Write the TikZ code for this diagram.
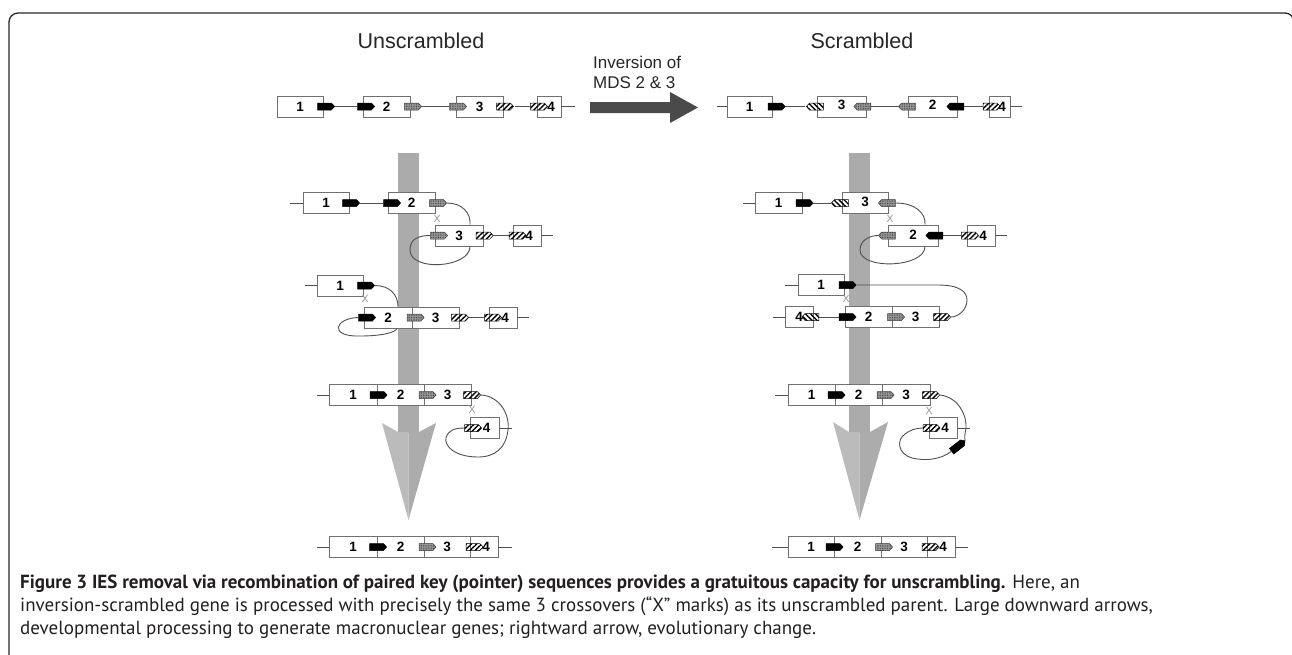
\documentclass[tikz,border=0pt]{standalone}
\usepackage{fontspec}
\usetikzlibrary{shapes.symbols,patterns.meta}
\newfontfamily\hv{Liberation Sans}
\newfontfamily\capf{PT Sans}
\definecolor{boxc}{HTML}{707070}
\definecolor{wirec}{HTML}{505050}
\definecolor{capc}{HTML}{231F20}
\definecolor{shaftc}{HTML}{ABABAB}
\definecolor{headl}{HTML}{BBBBBB}
\definecolor{headr}{HTML}{ACACAC}
\definecolor{bigarr}{HTML}{4A4A4A}
\begin{document}
\begin{tikzpicture}[x=1pt,y=-1pt,
  box/.style={draw=boxc, fill=white, line width=0.9pt, minimum height=21pt, inner sep=0pt,
    minimum width=#1, font=\hv\bfseries\fontsize{13.5}{14}\selectfont},
  ptr/.style={signal, signal pointer angle=95, minimum width=17pt, minimum height=7pt,
    inner sep=0pt, line width=0.5pt},
  pE/.style={signal to=east},
  pW/.style={signal to=west},
  ptrK/.style={ptr, fill=black, draw=black},
  ptrG/.style={ptr, fill=black!40, draw=black!75,
    postaction={pattern={Dots[radius=0.45pt,distance=1.7pt]}, pattern color=black!80}},
  ptrH/.style={ptr, draw=black, pattern={Lines[angle=45,distance=3.6pt,line width=1.4pt]}},
  ptrHw/.style={ptr, draw=black, pattern={Lines[angle=-45,distance=3.6pt,line width=1.4pt]}},
  wire/.style={draw=wirec, line width=0.9pt},
  xm/.style={font=\hv\fontsize{10.5}{11}\selectfont, text=gray!85, inner sep=0pt},
  ttl/.style={font=\hv\fontsize{21.5}{22}\selectfont, anchor=base, text=black!85},
  invt/.style={anchor=base west, inner sep=0pt, font=\hv\fontsize{17}{20}\selectfont, text=black!85},
  capline/.style={anchor=base west, inner sep=0pt, text=capc, font=\capf\fontsize{19}{23}\selectfont}
]
\useasboundingbox (0,0) rectangle (1292,654);
% frame
\draw[line width=1.3pt, black!85, rounded corners=9pt] (9,700) -- (9,13) -- (1294,13) -- (1294,700);

% titles
\node[ttl] (tU) at (421,48) {Unscrambled};
\node[ttl] (tS) at (862,48) {Scrambled};
\node[invt] (inv1) at (593,68) {Inversion of};
\node[invt] (inv2) at (593,88) {MDS 2 \& 3};
\fill[bigarr] (590,102) -- (670,102) -- (670,92) -- (698,107.5) -- (670,123) -- (670,113) -- (590,113) -- cycle;

% big downward arrows
\fill[shaftc] (398,153) rectangle (419,433);
\fill[headl] (398,432) -- (382,423) -- (408.5,520) -- (408.5,432) -- cycle;
\fill[headr] (408.5,432) -- (419,432) -- (436,423) -- (408.5,520) -- cycle;
\fill[shaftc] (849,153) rectangle (870,433);
\fill[headl] (849,432) -- (833,422) -- (859.5,520) -- (859.5,432) -- cycle;
\fill[headr] (859.5,432) -- (870,432) -- (888,422) -- (859.5,520) -- cycle;

% ===== top left row =====
\node[box=46pt] (u0b1) at (300,106.5) {1};
\node[box=47pt] (u0b2) at (386.5,106.5) {2};
\node[box=47pt] (u0b3) at (479.5,106.5) {3};
\node[box=24pt] (u0b4) at (549,106.5) {\hspace{4pt}4};
\node[ptrK,pE] (u0k1) at (324.5,106.5) {};
\node[ptrK,pE] (u0k2) at (364.5,106.5) {};
\node[ptrG,pE] (u0g1) at (411.5,106.5) {};
\node[ptrG,pE] (u0g2) at (456.5,106.5) {};
\node[ptrH,pE] (u0h1) at (503.5,106.5) {};
\node[ptrH,pE] (u0h2) at (537.5,106.5) {};
\coordinate (u0r) at (575,106.5);
\draw[wire] (u0k1.east) -- (u0k2.west);
\draw[wire] (u0g1.east) -- (u0g2.west);
\draw[wire] (u0h1.east) -- (u0h2.west);
\draw[wire] (u0b4.east) -- (u0r);

% ===== top right row =====
\coordinate (s0l) at (717,106.5);
\node[box=45pt] (s0b1) at (749.5,106.5) {1};
\node[box=49pt] (s0b3) at (841.5,106.5) {\raisebox{3pt}{3}};
\node[box=49pt] (s0b2) at (932.5,106.5) {\raisebox{3pt}{2}};
\node[box=21pt] (s0b4) at (999.5,106.5) {\hspace{5pt}4};
\node[ptrK,pE] (s0k1) at (775,106.5) {};
\node[ptrHw,pW] (s0h1) at (816.5,106.5) {};
\node[ptrG,pW] (s0g1) at (864,106.5) {};
\node[ptrG,pW] (s0g2) at (908.5,106.5) {};
\node[ptrK,pW] (s0k2) at (957,106.5) {};
\node[ptrH,pE] (s0h2) at (990,106.5) {};
\coordinate (s0r) at (1022,106.5);
\draw[wire] (s0l) -- (s0b1.west);
\draw[wire] (s0k1.east) -- (s0h1.west);
\draw[wire] (s0g1.east) -- (s0g2.west);
\draw[wire] (s0k2.east) -- (s0h2.west);
\draw[wire] (s0b4.east) -- (s0r);

% ===== left step 1 =====
\coordinate (uAl) at (290,203);
\node[box=46pt] (uAb1) at (326,203) {1};
\node[box=47pt] (uAb2) at (411.5,203) {2};
\node[box=48pt] (uBb3) at (459,235.5) {3};
\node[box=28pt] (uBb4) at (527,235.5) {\hspace{4pt}4};
\node[ptrK,pE] (uAk1) at (349.5,203) {};
\node[ptrK,pE] (uAk2) at (390.5,203) {};
\node[ptrG,pE] (uAg1) at (436.5,203) {};
\node[ptrG,pE] (uBg1) at (437.5,235.5) {};
\node[ptrH,pE] (uBh1) at (483,235.5) {};
\node[ptrH,pE] (uBh2) at (516,235.5) {};
\coordinate (uBr) at (553,235.5);
\draw[wire] (uAl) -- (uAb1.west);
\draw[wire] (uAk1.east) -- (uAk2.west);
\draw[wire] (uAg1.east) .. controls (462,203) and (471,213) .. ([xshift=11pt]uBb3.north);
\draw[wire] ([xshift=11pt]uBb3.south) .. controls (470,268) and (410,272) .. (410,250) .. controls (410,239) and (418,235.5) .. (uBg1.west);
\draw[wire] (uBh1.east) -- (uBh2.west);
\draw[wire] (uBb4.east) -- (uBr);
\node[xm] (uX1) at (437,219) {X};

% ===== left step 2 =====
\coordinate (uCl) at (305,285.5);
\node[box=46pt] (uCb1) at (340,285.5) {1};
\node[box=48pt] (uDb2) at (388,317.5) {2};
\node[box=47pt] (uDb3) at (435.5,317.5) {3};
\node[box=28pt] (uDb4) at (503,317.5) {\hspace{4pt}4};
\node[ptrK,pE] (uCk1) at (364.5,285.5) {};
\node[ptrK,pE] (uDk1) at (365.5,317.5) {};
\node[ptrG,pE] (uDg1) at (414,317.5) {};
\node[ptrH,pE] (uDh1) at (458.5,317.5) {};
\node[ptrH,pE] (uDh2) at (491.5,317.5) {};
\coordinate (uDr) at (529,317.5);
\draw[wire] (uCl) -- (uCb1.west);
\draw[wire] (uCk1.east) .. controls (390,285.5) and (398,295) .. ([xshift=10pt]uDb2.north);
\draw[wire] (uDk1.west) .. controls (335,318) and (328,337) .. (360,336) .. controls (380,336) and (395,333) .. ([xshift=9pt]uDb2.south);
\draw[wire] (uDh1.east) -- (uDh2.west);
\draw[wire] (uDb4.east) -- (uDr);
\node[xm] (uX2) at (365,299) {X};

% ===== left step 3 =====
\coordinate (uEl) at (317,395);
\node[box=48pt] (uEb1) at (353,395) {1};
\node[box=47pt] (uEb2) at (400.5,395) {2};
\node[box=47pt] (uEb3) at (447.5,395) {3};
\node[box=29pt] (uFb4) at (484.5,428) {\hspace{4pt}4};
\node[ptrK,pE] (uEk1) at (377,395) {};
\node[ptrG,pE] (uEg1) at (426,395) {};
\node[ptrH,pE] (uEh1) at (470.5,395) {};
\node[ptrH,pE] (uFh1) at (471.5,428) {};
\coordinate (uFr) at (512,428);
\draw[wire] (uEl) -- (uEb1.west);
\draw[wire] (uEh1.east) .. controls (500,396) and (510,415) .. (508,430) .. controls (506,448) and (495,457) .. (478,457) .. controls (455,457) and (444,446) .. (446,438) .. controls (448,430) and (455,428) .. (uFh1.west);
\draw[wire] (uFb4.east) -- (uFr);
\node[xm] (uX3) at (472,410) {X};

% ===== bottom left =====
\coordinate (uGl) at (317,547);
\node[box=48pt] (uGb1) at (353,547) {1};
\node[box=47pt] (uGb2) at (400.5,547) {2};
\node[box=46pt] (uGb3) at (447,547) {3};
\node[box=28pt] (uGb4) at (484,547) {\hspace{4pt}4};
\node[ptrK,pE] (uGk1) at (376.5,547) {};
\node[ptrG,pE] (uGg1) at (426,547) {};
\node[ptrH,pE] (uGh1) at (473,547) {};
\coordinate (uGr) at (512,547);
\draw[wire] (uGl) -- (uGb1.west);
\draw[wire] (uGb4.east) -- (uGr);

% ===== right step 1 =====
\coordinate (sAl) at (743,203);
\node[box=47pt] (sAb1) at (778.5,203) {1};
\node[box=46pt] (sAb3) at (865,203) {\raisebox{3pt}{3}};
\node[box=50pt] (sBb2) at (913,235.5) {\raisebox{2pt}{2}};
\node[box=28pt] (sBb4) at (981,235.5) {\hspace{4pt}4};
\node[ptrK,pE] (sAk1) at (803,203) {};
\node[ptrHw,pW] (sAh1) at (841.5,203) {};
\node[ptrG,pW] (sAg1) at (888.5,203) {};
\node[ptrG,pW] (sBg1) at (888.5,235.5) {};
\node[ptrK,pW] (sBk1) at (936,235.5) {};
\node[ptrH,pE] (sBh1) at (968.5,235.5) {};
\coordinate (sBr) at (1007,235.5);
\draw[wire] (sAl) -- (sAb1.west);
\draw[wire] (sAk1.east) -- (sAh1.west);
\draw[wire] (sAg1.east) .. controls (915,203) and (926,213) .. ([xshift=12pt]sBb2.north);
\draw[wire] ([xshift=12pt]sBb2.south) .. controls (925,268) and (860,270) .. (860,250) .. controls (860,240) and (870,235.5) .. (sBg1.west);
\draw[wire] (sBk1.east) -- (sBh1.west);
\draw[wire] (sBb4.east) -- (sBr);
\node[xm] (sX1) at (890,219) {X};

% ===== right step 2 =====
\coordinate (sCl) at (785,285);
\node[box=46pt] (sCb1) at (821,285) {1};
\node[box=28pt] (sDb4) at (799,317) {4};
\node[box=47pt] (sDb2) at (868.5,317) {2};
\node[box=47pt] (sDb3) at (915.5,317) {3};
\node[ptrK,pE] (sCk1) at (846,285) {};
\node[ptrHw,pW] (sDh1) at (812,317) {};
\node[ptrK,pE] (sDk1) at (846,317) {};
\node[ptrG,pE] (sDg1) at (894.5,317) {};
\node[ptrH,pE] (sDh2) at (940.5,317) {};
\coordinate (sDl) at (773,317);
\draw[wire] (sCl) -- (sCb1.west);
\draw[wire] (sCk1.east) -- (938,285) .. controls (960,285) and (967,292) .. (967,300) .. controls (967,310) and (958,317) .. (sDh2.east);
\draw[wire] (sDl) -- (sDb4.west);
\draw[wire] (sDh1.east) -- (sDk1.west);
\node[xm] (sX2) at (846,299) {X};

% ===== right step 3 =====
\coordinate (sEl) at (775,395);
\node[box=47pt] (sEb1) at (811.5,395) {1};
\node[box=47pt] (sEb2) at (858.5,395) {2};
\node[box=48pt] (sEb3) at (906,395) {3};
\node[box=28pt] (sFb4) at (943,428) {\hspace{4pt}4};
\node[ptrK,pE] (sEk1) at (835,395) {};
\node[ptrG,pE] (sEg1) at (884,395) {};
\node[ptrH,pE] (sEh1) at (929.5,395) {};
\node[ptrH,pE] (sFh1) at (930,428) {};
\node[ptrK,pE,rotate=38] (sEk2) at (957,447) {};
\coordinate (sFr) at (970,428);
\draw[wire] (sEl) -- (sEb1.west);
\draw[wire] (sEh1.east) .. controls (958,397) and (967,415) .. (966,428) .. controls (965,434) and (964,438) .. (sEk2.east);
\draw[wire] (sEk2.west) .. controls (940,460) and (925,461) .. (912,458) .. controls (898,454) and (896,440) .. (905,434) .. controls (910,430) and (916,428) .. (sFh1.west);
\draw[wire] (sFb4.east) -- (sFr);
\node[xm] (sX3) at (929,411) {X};

% ===== bottom right =====
\coordinate (sGl) at (772,547);
\node[box=46pt] (sGb1) at (811,547) {1};
\node[box=47pt] (sGb2) at (857.5,547) {2};
\node[box=46pt] (sGb3) at (904,547) {3};
\node[box=28pt] (sGb4) at (941,547) {\hspace{4pt}4};
\node[ptrK,pE] (sGk1) at (833,547) {};
\node[ptrG,pE] (sGg1) at (882.5,547) {};
\node[ptrH,pE] (sGh1) at (929,547) {};
\coordinate (sGr) at (968,547);
\draw[wire] (sGl) -- (sGb1.west);
\draw[wire] (sGb4.east) -- (sGr);

% ===== caption =====
\node[capline] (cap1) at (20,588) {\textbf{Figure 3 IES removal via recombination of paired key (pointer) sequences provides a gratuitous capacity for unscrambling.} Here, an};
\node[capline] (cap2) at (20,611) {inversion-scrambled gene is processed with precisely the same 3 crossovers (“X” marks) as its unscrambled parent. Large downward arrows,};
\node[capline] (cap3) at (20,634) {developmental processing to generate macronuclear genes; rightward arrow, evolutionary change.};
\end{tikzpicture}
\end{document}
